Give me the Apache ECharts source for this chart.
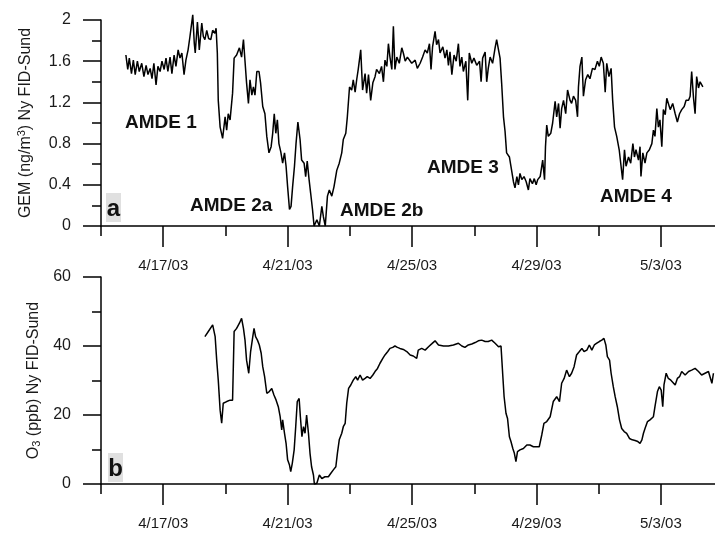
<!DOCTYPE html>
<html>
<head>
<meta charset="utf-8">
<script src="https://cdn.jsdelivr.net/npm/echarts@6/dist/echarts.min.js"></script>
<style>
html,body{margin:0;padding:0;background:#fff;}
#chart{width:715px;height:533px;}
</style>
</head>
<body>
<div id="chart"></div>
<script>
// x values: days after 4/15/03 00:00
var majorTickDays = [2, 6, 10, 14, 18];
var majorTickLabels = ['4/17/03', '4/21/03', '4/25/03', '4/29/03', '5/3/03'];
var minorTickDays = [0, 4, 8, 12, 16];
var xMaxDays = 19.74;

var gemTicks = [0, 0.4, 0.8, 1.2, 1.6, 2];
var o3Ticks = [0, 20, 40, 60];

// GEM (ng/m3): [day, value]
var gemSeries = [
[0.80,1.66],[0.86,1.52],[0.91,1.63],[0.98,1.48],[1.04,1.61],[1.10,1.47],[1.17,1.60],[1.23,1.50],[1.31,1.58],[1.38,1.45],
[1.45,1.56],[1.51,1.47],[1.58,1.53],[1.64,1.43],[1.70,1.58],[1.77,1.37],[1.83,1.55],[1.90,1.50],[1.96,1.60],[2.03,1.52],
[2.09,1.63],[2.15,1.50],[2.22,1.64],[2.28,1.48],[2.35,1.66],[2.41,1.55],[2.48,1.71],[2.54,1.63],[2.60,1.68],[2.67,1.47],
[2.73,1.61],[2.80,1.71],[2.86,1.84],[2.95,2.05],[3.00,1.77],[3.03,1.68],[3.10,1.98],[3.16,1.71],[3.24,1.97],[3.29,1.84],
[3.34,1.81],[3.40,1.90],[3.46,1.82],[3.53,1.81],[3.59,1.90],[3.66,1.87],[3.70,1.92],[3.74,1.68],
[3.77,1.22],[3.83,0.96],[3.91,0.85],[3.99,1.06],[4.04,0.93],[4.09,1.09],[4.15,1.03],[4.23,1.29],[4.28,1.63],[4.36,1.66],
[4.45,1.73],[4.52,1.64],[4.58,1.81],[4.63,1.60],[4.68,1.39],[4.74,1.19],[4.79,1.42],[4.85,1.27],[4.90,1.35],[4.95,1.27],
[5.01,1.50],[5.08,1.50],[5.13,1.39],[5.20,1.16],[5.27,1.09],[5.33,0.87],[5.40,0.71],[5.47,0.77],[5.52,0.90],[5.57,1.09],
[5.62,0.90],[5.67,1.03],[5.72,0.80],[5.78,0.72],[5.84,0.61],[5.90,0.71],[5.95,0.58],[6.00,0.38],[6.06,0.16],[6.11,0.19],
[6.16,0.38],[6.22,0.58],[6.27,0.80],[6.33,1.01],[6.40,0.84],[6.45,0.64],[6.53,0.61],[6.58,0.48],[6.63,0.63],[6.69,0.45],
[6.74,0.32],[6.80,0.16],[6.85,0.00],[6.94,0.06],[7.02,0.00],[7.10,0.19],[7.15,0.09],[7.21,0.00],[7.28,0.29],[7.34,0.35],
[7.42,0.29],[7.49,0.38],[7.58,0.54],[7.66,0.61],[7.74,0.71],[7.79,0.84],[7.87,0.90],[7.92,1.06],[7.99,1.35],[8.06,1.32],
[8.11,1.42],[8.17,1.30],[8.22,1.42],[8.27,1.52],[8.35,1.71],[8.41,1.32],[8.49,1.48],[8.54,1.29],[8.60,1.47],[8.67,1.22],
[8.74,1.39],[8.81,1.45],[8.86,1.52],[8.95,1.48],[9.02,1.55],[9.08,1.40],[9.13,1.61],[9.19,1.55],[9.24,1.77],[9.29,1.64],
[9.35,1.52],[9.40,1.94],[9.45,1.52],[9.51,1.64],[9.59,1.58],[9.67,1.73],[9.72,1.68],[9.78,1.60],[9.85,1.64],
[9.99,1.58],[10.10,1.61],[10.17,1.53],[10.26,1.58],[10.34,1.64],[10.42,1.71],[10.49,1.68],[10.56,1.77],[10.61,1.52],[10.66,1.74],
[10.74,1.89],[10.79,1.76],[10.85,1.81],[10.90,1.68],[10.99,1.74],[11.06,1.63],[11.12,1.71],[11.17,1.56],[11.22,1.69],[11.28,1.47],
[11.35,1.66],[11.42,1.60],[11.49,1.77],[11.54,1.55],[11.60,1.64],[11.65,1.50],[11.73,1.60],[11.79,1.22],[11.84,1.68],[11.92,1.58],
[11.99,1.63],[12.08,1.56],[12.17,1.60],[12.22,1.40],[12.27,1.63],[12.35,1.69],[12.40,1.40],[12.45,1.53],[12.51,1.64],[12.59,1.58],
[12.67,1.73],[12.72,1.81],[12.78,1.71],[12.83,1.63],[12.88,1.39],[12.94,1.06],[12.99,0.92],[13.04,0.71],[13.13,0.67],[13.18,0.58],
[13.26,0.43],[13.31,0.37],[13.37,0.48],[13.42,0.40],[13.47,0.51],[13.53,0.45],[13.60,0.48],[13.67,0.43],[13.74,0.35],[13.79,0.46],
[13.87,0.41],[13.93,0.46],[13.99,0.40],[14.04,0.45],[14.12,0.48],[14.20,0.64],[14.26,0.45],[14.29,0.77],[14.33,0.98],[14.38,0.87],
[14.46,0.90],[14.52,1.00],[14.60,1.21],[14.65,1.06],[14.71,1.19],[14.76,0.95],[14.81,1.14],[14.87,1.22],[14.94,1.09],[15.00,1.32],
[15.08,1.22],[15.13,1.19],[15.19,1.26],[15.26,1.22],[15.32,1.06],[15.35,1.35],[15.40,1.55],[15.46,1.64],[15.51,1.26],[15.58,1.42],
[15.65,1.47],[15.72,1.43],[15.80,1.53],[15.88,1.52],[15.96,1.60],[16.02,1.55],[16.08,1.64],[16.15,1.58],[16.21,1.30],[16.26,1.58],
[16.33,1.45],[16.40,1.53],[16.45,1.22],[16.51,0.96],[16.58,0.87],[16.66,0.74],[16.72,0.58],[16.77,0.45],[16.83,0.74],[16.88,0.58],
[16.96,0.67],[17.03,0.61],[17.10,0.80],[17.15,0.67],[17.20,0.74],[17.28,0.64],[17.33,0.77],[17.36,0.48],[17.42,0.71],[17.49,0.61],
[17.55,0.71],[17.63,0.74],[17.71,0.80],[17.76,0.93],[17.81,0.87],[17.87,1.14],[17.92,0.96],[17.97,1.03],[18.03,0.77],[18.08,1.13],
[18.14,1.08],[18.19,1.24],[18.24,1.19],[18.30,1.13],[18.38,1.19],[18.46,1.09],[18.53,1.01],[18.60,1.09],[18.67,1.13],[18.75,1.16],
[18.81,1.22],[18.89,1.22],[18.94,1.26],[18.99,1.50],[19.05,1.24],[19.10,1.09],[19.15,1.45],[19.21,1.34],[19.26,1.40],[19.35,1.35]
];

// O3 (ppb): [day, value]
var o3Series = [
[3.34,42.7],[3.45,44.2],[3.59,46.1],[3.67,42.7],[3.72,35.9],[3.77,30.1],[3.83,21.4],[3.88,17.6],[3.93,23.4],[4.04,23.9],
[4.15,24.3],[4.23,24.3],[4.28,44.2],[4.36,45.1],[4.45,46.6],[4.52,48.0],[4.58,45.1],[4.63,41.7],[4.68,35.9],[4.75,32.1],
[4.81,38.4],[4.88,42.7],[4.92,45.1],[4.97,42.7],[5.03,41.7],[5.09,40.3],[5.15,37.9],[5.20,34.0],[5.26,31.1],[5.33,26.3],
[5.41,26.8],[5.49,27.7],[5.56,25.8],[5.63,24.3],[5.70,22.4],[5.76,19.5],[5.81,15.7],[5.84,18.6],[5.90,14.7],[5.95,11.8],
[6.00,7.0],[6.06,5.5],[6.10,3.6],[6.15,6.0],[6.21,9.9],[6.26,16.6],[6.31,23.9],[6.37,24.8],[6.41,19.5],[6.46,13.7],
[6.51,16.6],[6.56,14.7],[6.61,20.0],[6.67,14.7],[6.72,8.9],[6.77,5.0],[6.83,2.6],[6.86,0.0],[6.94,0.2],[7.02,2.6],
[7.10,1.6],[7.20,2.1],[7.31,2.1],[7.39,3.1],[7.47,4.1],[7.55,5.0],[7.60,8.9],[7.66,12.8],[7.74,14.7],[7.79,16.6],
[7.85,17.6],[7.90,23.4],[7.96,27.7],[8.03,28.7],[8.11,30.1],[8.19,31.1],[8.25,30.1],[8.33,31.6],[8.41,30.1],[8.49,30.6],
[8.56,31.1],[8.65,30.6],[8.74,31.6],[8.81,32.6],[8.89,33.5],[8.97,35.0],[9.06,36.4],[9.13,37.4],[9.22,38.4],[9.29,39.3],
[9.38,39.6],[9.45,40.0],[9.53,39.6],[9.61,39.3],[9.72,39.0],[9.83,38.4],
[9.94,37.4],[10.04,37.1],[10.15,36.4],[10.20,38.8],[10.31,39.3],[10.42,38.8],[10.53,39.8],[10.63,40.6],[10.74,41.5],[10.85,40.3],
[11.01,40.0],[11.17,40.0],[11.33,40.3],[11.49,40.8],[11.60,40.0],[11.70,39.6],[11.81,40.3],[11.92,40.6],[12.03,41.0],[12.13,41.5],
[12.24,41.7],[12.35,41.3],[12.45,41.3],[12.56,41.7],[12.67,40.8],[12.78,39.8],[12.86,40.0],[12.92,31.1],[12.96,25.3],[13.02,20.5],
[13.07,19.0],[13.13,13.7],[13.18,12.3],[13.24,10.3],[13.29,8.9],[13.34,6.5],[13.39,9.4],[13.47,9.9],[13.58,10.3],[13.69,11.3],
[13.79,11.3],[13.90,10.8],[14.01,10.8],[14.09,10.8],[14.17,14.2],[14.24,17.6],[14.33,18.1],[14.44,19.5],[14.54,23.9],[14.65,25.3],
[14.74,23.9],[14.81,29.2],[14.89,30.6],[14.97,33.0],[15.06,31.1],[15.13,32.1],[15.21,34.0],[15.29,37.4],[15.38,38.4],[15.46,39.3],
[15.53,38.4],[15.62,38.8],[15.70,40.3],[15.78,38.8],[15.86,40.3],[15.94,40.8],[16.02,41.3],[16.10,41.7],[16.17,42.2],[16.23,40.3],
[16.28,36.9],[16.35,35.9],[16.40,32.1],[16.47,28.2],[16.53,25.3],[16.60,22.4],[16.67,18.6],[16.74,16.1],[16.82,15.2],[16.90,14.7],
[16.99,13.2],[17.08,12.8],[17.17,12.6],[17.26,12.3],[17.33,11.8],[17.39,12.8],[17.44,14.7],[17.49,16.1],[17.57,18.1],[17.65,18.6],
[17.76,19.5],[17.81,22.4],[17.89,26.8],[17.95,28.2],[18.01,27.2],[18.06,22.4],[18.10,28.7],[18.17,32.1],[18.24,30.6],[18.32,30.1],
[18.38,29.7],[18.46,28.7],[18.53,30.6],[18.60,31.1],[18.67,32.6],[18.78,31.6],[18.89,32.6],[18.99,33.0],[19.10,33.5],[19.21,32.6],
[19.31,31.6],[19.42,32.1],[19.53,32.6],[19.64,29.2],[19.69,32.1]
];

var annotations = ['AMDE 1', 'AMDE 2a', 'AMDE 2b', 'AMDE 3', 'AMDE 4'];

var FONT = '"Liberation Sans", Arial, sans-serif';
var TXT = '#1a1a1a';

function fmtX(v) {
  var i = majorTickDays.indexOf(v);
  return i >= 0 ? majorTickLabels[i] : '';
}

function xAxes(gi) {
  return [
    {
      gridIndex: gi, type: 'value', position: 'bottom', min: 0, max: xMaxDays,
      axisLine: { show: true, onZero: false, lineStyle: { color: '#000', width: 1.5 } },
      axisTick: { show: true, customValues: minorTickDays, length: 10, lineStyle: { color: '#000', width: 1.5 } },
      axisLabel: { show: false },
      splitLine: { show: false }
    },
    {
      gridIndex: gi, type: 'value', position: 'bottom', min: 0, max: xMaxDays,
      axisLine: { show: false, onZero: false },
      axisTick: { show: true, customValues: majorTickDays, length: 21, lineStyle: { color: '#000', width: 1.5 } },
      axisLabel: { show: true, customValues: majorTickDays, formatter: fmtX, margin: 32,
        fontFamily: FONT, fontSize: 15, color: TXT },
      splitLine: { show: false }
    }
  ];
}

function yAxis(gi, max, interval, ticks, name, gap, rich) {
  return {
    gridIndex: gi, type: 'value', position: 'left', min: 0, max: max, interval: interval,
    axisLine: { show: true, onZero: false, lineStyle: { color: '#000', width: 1.5 } },
    axisTick: { show: true, length: 18, lineStyle: { color: '#000', width: 1.5 } },
    minorTick: { show: true, splitNumber: 2, length: 9, lineStyle: { color: '#000', width: 1.5 } },
    minorSplitLine: { show: false },
    splitLine: { show: false },
    axisLabel: { margin: 30, fontFamily: FONT, fontSize: 16, color: TXT,
      formatter: function (v) { return ticks.indexOf(v) >= 0 ? String(v) : ''; } },
    name: name, nameLocation: 'middle', nameRotate: 90, nameGap: gap,
    nameTextStyle: { fontFamily: FONT, fontSize: 16, color: TXT, rich: rich }
  };
}

var chart = echarts.init(document.getElementById('chart'), null, { renderer: 'canvas' });

var annoPos = [[125, 123], [190, 206], [340, 211], [427, 168], [600, 197]];

var graphics = [];
annotations.forEach(function (t, i) {
  graphics.push({
    type: 'text', x: annoPos[i][0], y: annoPos[i][1], z: 10,
    style: { text: t, font: 'bold 19px ' + FONT, fill: '#111', align: 'left', verticalAlign: 'middle' }
  });
});
graphics.push({ type: 'rect', shape: { x: 106, y: 193, width: 15, height: 29 }, style: { fill: '#e0e0e0' }, z: 5 });
graphics.push({ type: 'text', x: 113.5, y: 221, z: 10,
  style: { text: 'a', font: 'bold 24px ' + FONT, fill: '#111', align: 'center', verticalAlign: 'bottom' } });
graphics.push({ type: 'rect', shape: { x: 108, y: 453, width: 15, height: 29 }, style: { fill: '#e0e0e0' }, z: 5 });
graphics.push({ type: 'text', x: 115.5, y: 481, z: 10,
  style: { text: 'b', font: 'bold 24px ' + FONT, fill: '#111', align: 'center', verticalAlign: 'bottom' } });

var option = {
  animation: false,
  backgroundColor: '#fff',
  grid: [
    { left: 101, top: 20, width: 614, height: 206 },
    { left: 101, top: 277, width: 614, height: 207 }
  ],
  xAxis: xAxes(0).concat(xAxes(1)),
  yAxis: [
    yAxis(0, 2, 0.4, gemTicks, 'GEM (ng/m{sup|3}) Ny FID-Sund', 66,
      { sup: { fontFamily: FONT, fontSize: 11, color: TXT, verticalAlign: 'top', padding: [0, 0, 8, 0] } }),
    yAxis(1, 60, 20, o3Ticks, 'O{sub|3} (ppb) Ny FID-Sund', 51,
      { sub: { fontFamily: FONT, fontSize: 11, color: TXT, verticalAlign: 'bottom', padding: [6, 0, 0, 0] } })
  ],
  graphic: graphics,
  series: [
    { type: 'line', xAxisIndex: 0, yAxisIndex: 0, data: gemSeries, showSymbol: false,
      lineStyle: { color: '#000', width: 1.5 }, clip: false },
    { type: 'line', xAxisIndex: 2, yAxisIndex: 1, data: o3Series, showSymbol: false,
      lineStyle: { color: '#000', width: 1.5 }, clip: false }
  ]
};
chart.setOption(option);
</script>
</body>
</html>
